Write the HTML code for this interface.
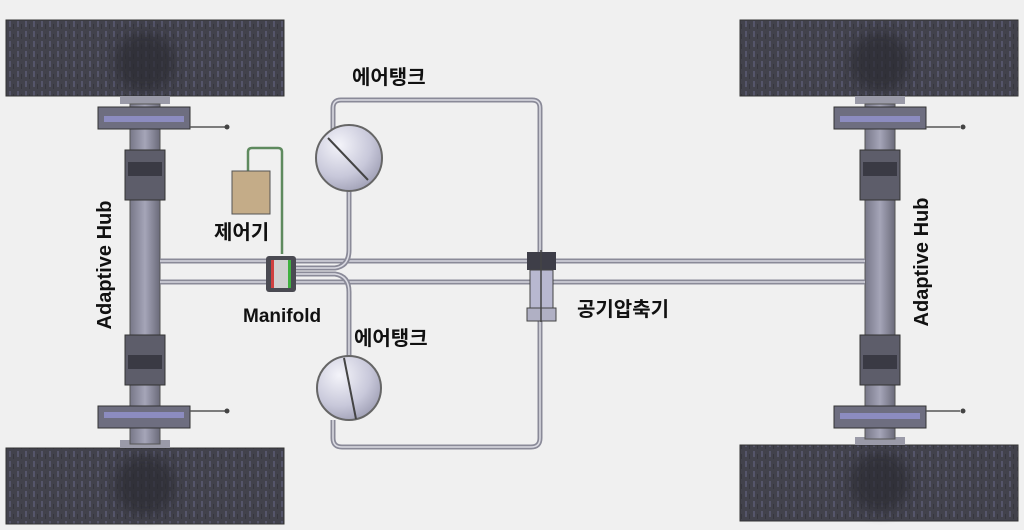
<!DOCTYPE html>
<html><head><meta charset="utf-8"><style>
html,body{margin:0;padding:0;background:#f0f0f0;}
svg{display:block}
text{font-family:"Liberation Sans","Noto Sans CJK KR",sans-serif;font-weight:bold;fill:#111;}
</style></head><body>
<svg width="1024" height="530" viewBox="0 0 1024 530" xmlns="http://www.w3.org/2000/svg">
<defs>
<pattern id="tread" width="8" height="10" patternUnits="userSpaceOnUse">
<rect width="8" height="10" fill="#42424c"/>
<rect x="1" y="1" width="2" height="6" fill="#55556a"/>
<rect x="5" y="4" width="1" height="5" fill="#36363e"/>
</pattern>
<radialGradient id="tank" cx="0.35" cy="0.3" r="0.8">
<stop offset="0" stop-color="#f4f4fa"/><stop offset="0.6" stop-color="#c8c8da"/><stop offset="1" stop-color="#9a9ab0"/>
</radialGradient>
<linearGradient id="col" x1="0" x2="1"><stop offset="0" stop-color="#777788"/><stop offset="0.5" stop-color="#a5a5b8"/><stop offset="1" stop-color="#6a6a7a"/></linearGradient>
<filter id="bl"><feGaussianBlur stdDeviation="6"/></filter>
</defs>
<rect width="1024" height="530" fill="#f0f0f0"/>

<!-- tires -->
<g stroke="#333" stroke-width="1">
<rect x="6" y="20" width="278" height="76" fill="url(#tread)"/>
<rect x="6" y="448" width="278" height="76" fill="url(#tread)"/>
<rect x="740" y="20" width="278" height="76" fill="url(#tread)"/>
<rect x="740" y="445" width="278" height="76" fill="url(#tread)"/>
</g>
<g filter="url(#bl)" fill="#2a2a30" opacity="0.7">
<ellipse cx="145" cy="62" rx="30" ry="30"/>
<ellipse cx="145" cy="485" rx="30" ry="30"/>
<ellipse cx="880" cy="62" rx="30" ry="30"/>
<ellipse cx="880" cy="482" rx="30" ry="30"/>
</g>

<!-- left axle column -->
<g>
<rect x="120" y="96" width="50" height="8" fill="#9a9aa8"/>
<rect x="120" y="440" width="50" height="8" fill="#9a9aa8"/>
<rect x="130" y="104" width="30" height="340" fill="url(#col)" stroke="#555" stroke-width="1"/>
<rect x="98" y="107" width="92" height="22" fill="#6e6e80" stroke="#333"/>
<rect x="104" y="116" width="80" height="6" fill="#8c8cc0"/>
<line x1="190" y1="127" x2="225" y2="127" stroke="#555" stroke-width="1.5"/><circle cx="227" cy="127" r="2.5" fill="#444"/>
<rect x="98" y="406" width="92" height="22" fill="#6e6e80" stroke="#333"/>
<rect x="104" y="412" width="80" height="6" fill="#8c8cc0"/>
<line x1="190" y1="411" x2="225" y2="411" stroke="#555" stroke-width="1.5"/><circle cx="227" cy="411" r="2.5" fill="#444"/>
<rect x="125" y="150" width="40" height="50" fill="#5d5d6a" stroke="#333"/>
<rect x="128" y="162" width="34" height="14" fill="#3a3a44"/>
<rect x="125" y="335" width="40" height="50" fill="#5d5d6a" stroke="#333"/>
<rect x="128" y="355" width="34" height="14" fill="#3a3a44"/>
</g>
<!-- right axle column -->
<g>
<rect x="855" y="96" width="50" height="8" fill="#9a9aa8"/>
<rect x="855" y="437" width="50" height="8" fill="#9a9aa8"/>
<rect x="865" y="104" width="30" height="335" fill="url(#col)" stroke="#555" stroke-width="1"/>
<rect x="834" y="107" width="92" height="22" fill="#6e6e80" stroke="#333"/>
<rect x="840" y="116" width="80" height="6" fill="#8c8cc0"/>
<line x1="926" y1="127" x2="960" y2="127" stroke="#555" stroke-width="1.5"/><circle cx="963" cy="127" r="2.5" fill="#444"/>
<rect x="834" y="406" width="92" height="22" fill="#6e6e80" stroke="#333"/>
<rect x="840" y="413" width="80" height="6" fill="#8c8cc0"/>
<line x1="926" y1="411" x2="960" y2="411" stroke="#555" stroke-width="1.5"/><circle cx="963" cy="411" r="2.5" fill="#444"/>
<rect x="860" y="150" width="40" height="50" fill="#5d5d6a" stroke="#333"/>
<rect x="863" y="162" width="34" height="14" fill="#3a3a44"/>
<rect x="860" y="335" width="40" height="50" fill="#5d5d6a" stroke="#333"/>
<rect x="863" y="355" width="34" height="14" fill="#3a3a44"/>
</g>

<!-- main rods -->
<g stroke="#8a8a98" stroke-width="5" fill="none">
<line x1="160" y1="261" x2="865" y2="261"/>
<line x1="160" y1="282" x2="865" y2="282"/>
</g>
<g stroke="#d8d8e0" stroke-width="1.5" fill="none">
<line x1="160" y1="261" x2="865" y2="261"/>
<line x1="160" y1="282" x2="865" y2="282"/>
</g>

<!-- air pipes -->
<g stroke="#8a8a98" stroke-width="5" fill="none">
<path d="M333 130 V108 Q333 100 341 100 H532 Q540 100 540 108 V255"/>
<path d="M349 190 V250 Q349 266 335 268 H296"/>
<path d="M349 356 V292 Q349 276 335 274 H296"/>
<path d="M333 420 V438 Q333 447 342 447 H531 Q540 447 540 438 V320"/>
</g>
<g stroke="#dcdce4" stroke-width="1.5" fill="none">
<path d="M333 130 V108 Q333 100 341 100 H532 Q540 100 540 108 V255"/>
<path d="M349 190 V250 Q349 266 335 268 H296"/>
<path d="M349 356 V292 Q349 276 335 274 H296"/>
<path d="M333 420 V438 Q333 447 342 447 H531 Q540 447 540 438 V320"/>
</g>

<!-- tanks -->
<circle cx="349" cy="158" r="33" fill="url(#tank)" stroke="#666" stroke-width="2"/>
<line x1="328" y1="138" x2="368" y2="180" stroke="#444" stroke-width="2"/>
<circle cx="349" cy="388" r="32" fill="url(#tank)" stroke="#666" stroke-width="2"/>
<line x1="344" y1="358" x2="356" y2="419" stroke="#444" stroke-width="2"/>

<!-- controller -->
<path d="M248 172 V152 Q248 148 252 148 H278 Q282 148 282 152 V254" stroke="#5e8a5e" stroke-width="2.5" fill="none"/>
<rect x="232" y="171" width="38" height="43" fill="#c4ac88" stroke="#555" stroke-width="1"/>

<!-- manifold -->
<rect x="266" y="256" width="30" height="36" rx="3" fill="#4a4a52"/>
<rect x="271" y="260" width="20" height="28" fill="#d0d0d0"/>
<rect x="271" y="260" width="3" height="28" fill="#d04040"/>
<rect x="288" y="260" width="3" height="28" fill="#40b040"/>

<!-- compressor -->
<rect x="527" y="252" width="29" height="18" fill="#3e3e48"/>
<rect x="530" y="270" width="23" height="38" fill="#b8b8d0" stroke="#444"/>
<rect x="527" y="308" width="29" height="13" fill="#b0b0c4" stroke="#444"/>
<line x1="541" y1="250" x2="541" y2="322" stroke="#444" stroke-width="1.5"/>

<!-- labels -->
<text x="352" y="84" font-size="20">에어탱크</text>
<text x="214" y="239" font-size="20">제어기</text>
<text x="243" y="322" font-size="19">Manifold</text>
<text x="354" y="345" font-size="20">에어탱크</text>
<text x="577" y="316" font-size="20">공기압축기</text>
<text transform="translate(111,265) rotate(-90)" text-anchor="middle" font-size="20">Adaptive Hub</text>
<text transform="translate(928,262) rotate(-90)" text-anchor="middle" font-size="20">Adaptive Hub</text>
</svg>
</body></html>
